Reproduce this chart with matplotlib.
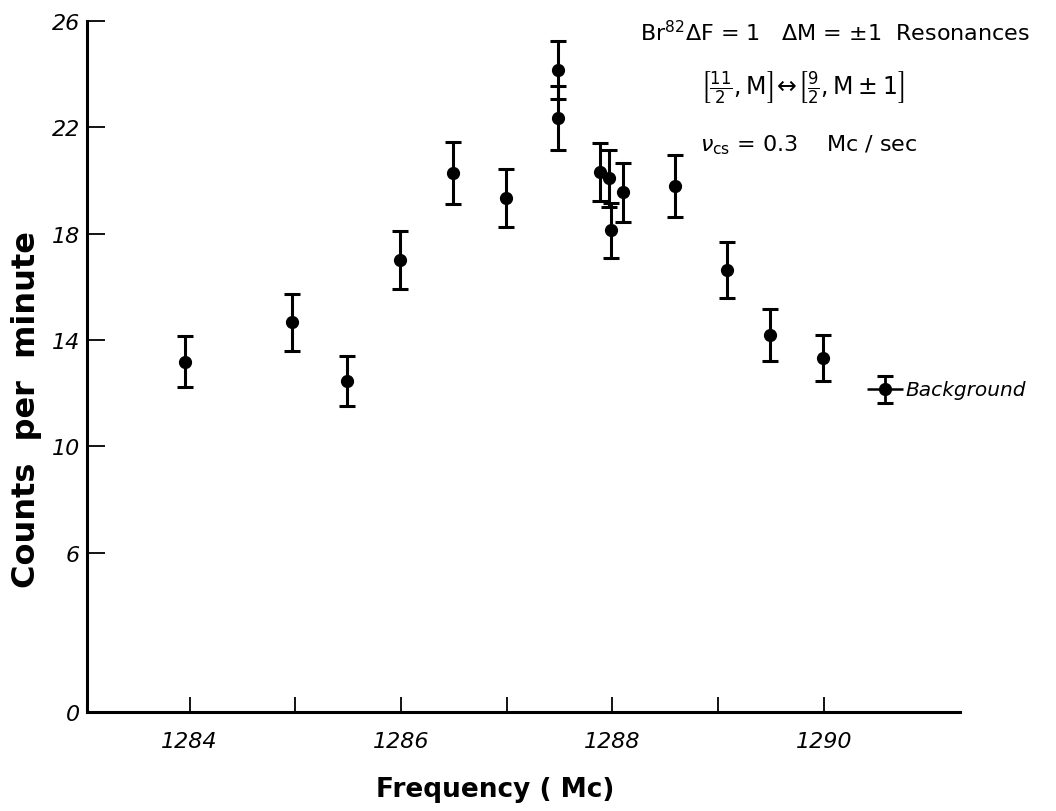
import matplotlib
matplotlib.use("Agg")
import matplotlib.pyplot as plt

# valores
frecuencia = [1283.96, 1284.97, 1285.49, 1285.99, 1286.49, 1286.99, 1287.49, 1287.49,
              1287.88, 1287.97, 1287.99, 1288.10, 1288.59, 1289.09, 1289.49, 1289.99]
cuentas = [13.17, 14.67, 12.45, 17.01, 20.28, 19.34, 24.15, 22.35,
           20.32, 20.09, 18.13, 19.56, 19.79, 16.63, 14.18, 13.32]
errores = [0.96, 1.07, 0.94, 1.09, 1.18, 1.09, 1.10, 1.20,
           1.10, 1.07, 1.03, 1.11, 1.15, 1.05, 0.98, 0.88]

fondo_x = 1290.58
fondo_y = 12.15
fondo_yerr = 0.51
fondo_xerr = 0.17

ticks_x = [1284, 1285, 1286, 1287, 1288, 1289, 1290]
etiquetas_x = ["1284", "", "1286", "", "1288", "", "1290"]
ticks_y = [0, 6, 10, 14, 18, 22, 26]

plt.rcParams["mathtext.fontset"] = "dejavusans"

fig = plt.figure(figsize=(10.56, 8.12), dpi=100)
ax = fig.add_axes([87 / 1056, 1 - 713 / 812, 873 / 1056, 691 / 812])

ax.errorbar(frecuencia, cuentas, yerr=errores, fmt="o", color="black",
            markersize=8.5, elinewidth=2.2, capsize=5.5, capthick=2.2)
# fondo: barra horizontal sin topes, barra vertical con topes
ax.errorbar([fondo_x], [fondo_y], xerr=[fondo_xerr], fmt="none", color="black",
            elinewidth=1.8, capsize=0)
ax.errorbar([fondo_x], [fondo_y], yerr=[fondo_yerr], fmt="o", color="black",
            markersize=8.5, elinewidth=2.0, capsize=5.5, capthick=2.2)
ax.text(fondo_x + 0.19, fondo_y, "Background", fontsize=14.5, style="italic",
        va="center", ha="left")

ax.set_xlim(1283.03, 1291.29)
ax.set_ylim(0, 26)
ax.set_xticks(ticks_x)
ax.set_xticklabels(etiquetas_x)
ax.set_yticks(ticks_y)

for s in ["top", "right"]:
    ax.spines[s].set_visible(False)
for s in ["left", "bottom"]:
    ax.spines[s].set_linewidth(2.2)

ax.tick_params(axis="y", direction="in", length=13, width=1.3, labelsize=16, pad=5)
ax.tick_params(axis="x", direction="in", length=11, width=1.3, labelsize=16, pad=14)
for lab in ax.get_xticklabels() + ax.get_yticklabels():
    lab.set_fontstyle("italic")

fig.text(27 / 1056, 1 - 410 / 812, "Counts  per  minute", rotation=90,
         fontsize=23, fontweight="bold", ha="center", va="center")
fig.text(495 / 1056, 1 - 790 / 812, "Frequency ( Mc)", fontsize=19,
         fontweight="bold", ha="center", va="center")

# anotaciones arriba a la derecha
fig.text(640 / 1056, 1 - 33 / 812,
         r"Br$^{82}$$\Delta$F = 1   $\Delta$M = $\pm$1  Resonances",
         fontsize=16, ha="left", va="center")
fig.text(700 / 1056, 1 - 88 / 812,
         r"$\left[\frac{11}{2},\mathrm{M}\right]\!\leftrightarrow\!\left[\frac{9}{2},\mathrm{M}\pm 1\right]$",
         fontsize=17, ha="left", va="center")
fig.text(700 / 1056, 1 - 145 / 812, r"$\nu_{\mathrm{cs}}$ = 0.3    Mc / sec",
         fontsize=16, ha="left", va="center")

fig.savefig("out.png", dpi=100)
